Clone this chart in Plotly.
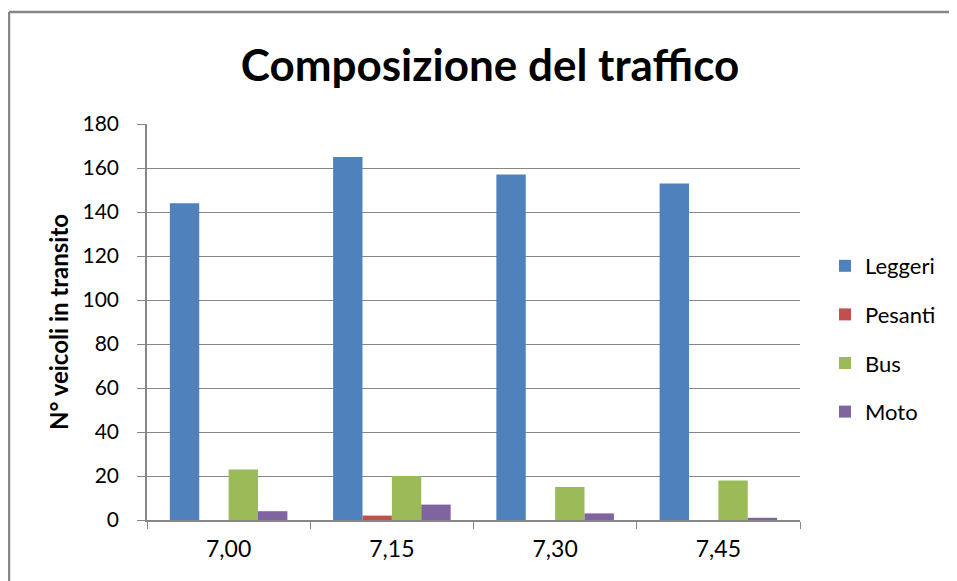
import plotly.graph_objects as go

categories = ["7,00", "7,15", "7,30", "7,45"]
leggeri = [144, 165, 157, 153]
pesanti = [0, 2, 0, 0]
bus = [23, 20, 15, 18]
moto = [4, 7, 3, 1]
y_ticks = [0, 20, 40, 60, 80, 100, 120, 140, 160, 180]

series = [
    ("Leggeri", leggeri, "#4F81BD"),
    ("Pesanti", pesanti, "#C0504D"),
    ("Bus", bus, "#9BBB59"),
    ("Moto", moto, "#8064A2"),
]

FONT = "Lato, Calibri, Carlito, sans-serif"

fig = go.Figure()
for name, vals, col in series:
    fig.add_trace(go.Bar(x=categories, y=vals, name=name, marker_color=col,
                         marker_line_width=0, legendgroup=name))

# page has an 8px body margin; figure coordinates are page - 8
W, H = 949, 573
L, R, T, B = 139, 157, 116, 61
pw, ph = W - L - R, H - T - B

def px_x(p):
    return (p - L) / pw

def px_y(p):
    return (H - B - p) / ph

fig.update_layout(
    width=W, height=H,
    margin=dict(l=L, r=R, t=T, b=B),
    paper_bgcolor="white", plot_bgcolor="white",
    barmode="group", bargap=0.28, bargroupgap=0,
    font=dict(family=FONT, size=20, color="black"),
    title=dict(text="<b>Composizione del traffico</b>", x=px_x(482), xref="paper",
               xanchor="center", y=1 - 58 / H, yanchor="middle",
               font=dict(family=FONT, size=44, color="black")),
    legend=dict(x=px_x(817), y=px_y(237), xanchor="left", yanchor="top",
                font=dict(family=FONT, size=22), tracegroupgap=17,
                itemwidth=30, bgcolor="rgba(0,0,0,0)"),
    showlegend=True,
)

fig.update_xaxes(
    type="category", showline=True, linecolor="#868686", linewidth=1.5,
    ticks="outside", tickson="boundaries", ticklen=7, tickcolor="#868686",
    tickfont=dict(family=FONT, size=23), showgrid=False, ticklabelstandoff=8,
)
fig.update_yaxes(
    range=[0, 180], tickvals=y_ticks, showline=True, linecolor="#868686", linewidth=1.5,
    ticks="outside", ticklen=8, tickcolor="#868686", gridcolor="#868686", gridwidth=1,
    tickfont=dict(family=FONT, size=21), zeroline=False, ticklabelstandoff=14,
    title=dict(text="<b>N° veicoli in transito</b>", font=dict(family=FONT, size=24), standoff=7),
)

# outer chart border (top and left visible)
fig.add_shape(type="line", xref="paper", yref="paper",
              x0=px_x(1), x1=px_x(960), y0=px_y(4), y1=px_y(4),
              line=dict(color="#878787", width=2.5))
fig.add_shape(type="line", xref="paper", yref="paper",
              x0=px_x(1), x1=px_x(1), y0=px_y(4), y1=px_y(590),
              line=dict(color="#878787", width=2.5))

fig.write_html("out.html")
